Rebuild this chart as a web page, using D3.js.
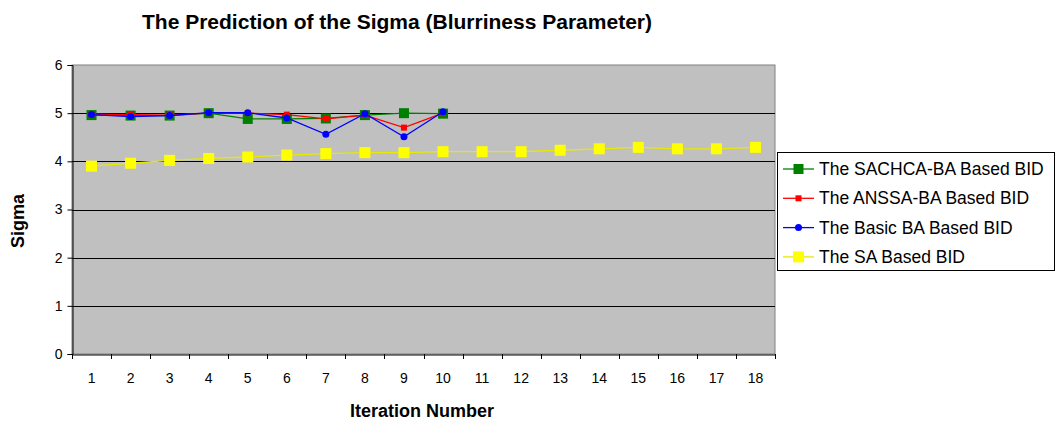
<!DOCTYPE html>
<html>
<head>
<meta charset="utf-8">
<script src="https://cdn.jsdelivr.net/npm/d3@7"></script>
<style>
  html, body { margin: 0; padding: 0; background: #fff; }
  svg { display: block; font-family: "Liberation Sans", Arial, sans-serif; }
</style>
</head>
<body>
<svg id="chart" width="1056" height="425"></svg>
<script>
// Iteration numbers shown on the x axis
const iterations = d3.range(1, 19);
const yTicks = [0, 1, 2, 3, 4, 5, 6];

// Estimated sigma per iteration for each method
const sachcaBA = [4.96, 4.95, 4.95, 5.00, 4.88, 4.88, 4.89, 4.96, 5.00, 4.99];
const anssaBA  = [4.98, 4.97, 4.96, 5.00, 5.00, 4.97, 4.88, 4.96, 4.70, 5.00];
const basicBA  = [4.97, 4.93, 4.95, 5.01, 5.01, 4.90, 4.56, 4.99, 4.51, 5.03];
const saBased  = [3.90, 3.96, 4.02, 4.06, 4.09, 4.13, 4.16, 4.18, 4.18, 4.20,
                  4.20, 4.20, 4.23, 4.26, 4.29, 4.26, 4.26, 4.29];

const seriesNames = ["The SACHCA-BA Based BID", "The ANSSA-BA Based BID",
                     "The Basic BA Based BID", "The SA Based BID"];

const series = [
  { name: seriesNames[0], values: sachcaBA, color: "#008000", line: "#008000", marker: "square", size: 10 },
  { name: seriesNames[1], values: anssaBA,  color: "#ff0000", line: "#ff0000", marker: "square", size: 6 },
  { name: seriesNames[2], values: basicBA,  color: "#0000ff", line: "#0000ff", marker: "circle", size: 7 },
  { name: seriesNames[3], values: saBased,  color: "#ffff00", line: "#e8e800", marker: "square", size: 11 }
];

const svg = d3.select("#chart");
const plot = { left: 72, right: 775, top: 65, bottom: 354 };

const x = d3.scaleBand().domain(iterations).range([plot.left, plot.right]);
const y = d3.scaleLinear().domain([0, 6]).range([plot.bottom, plot.top]);

// Plot background
svg.append("rect")
  .attr("x", plot.left).attr("y", plot.top)
  .attr("width", plot.right - plot.left).attr("height", plot.bottom - plot.top)
  .attr("fill", "#c0c0c0").attr("stroke", "#808080").attr("stroke-width", 1);

// Horizontal gridlines
svg.append("g").selectAll("line")
  .data(yTicks.filter(d => d > 0 && d < 6))
  .join("line")
  .attr("x1", plot.left).attr("x2", plot.right)
  .attr("y1", d => Math.round(y(d)) + 0.5).attr("y2", d => Math.round(y(d)) + 0.5)
  .attr("stroke", "#000").attr("stroke-width", 1);

// Y axis
const yAxis = svg.append("g")
  .attr("transform", `translate(${plot.left + 0.5},0)`)
  .call(d3.axisLeft(y).tickValues(yTicks).tickSize(5).tickPadding(5).tickFormat(d3.format("d")));
yAxis.select(".domain").attr("stroke", "#000");
yAxis.selectAll("line").attr("stroke", "#000");
yAxis.selectAll("text").attr("font-size", 14).attr("fill", "#000")
  .attr("font-family", "Liberation Sans, Arial, sans-serif");

// X axis: ticks sit between categories
const xAxis = svg.append("g")
  .attr("transform", `translate(0,${plot.bottom + 0.5})`)
  .call(d3.axisBottom(x).tickSize(0));
xAxis.select(".domain").attr("stroke", "#000");
xAxis.selectAll("text").attr("font-size", 14).attr("fill", "#000")
  .attr("y", 28).attr("dy", 0)
  .attr("font-family", "Liberation Sans, Arial, sans-serif");
svg.append("g").selectAll("line")
  .data(iterations.concat([iterations.length + 1]))
  .join("line")
  .attr("x1", (d, i) => Math.round(plot.left + i * x.bandwidth()) + 0.5)
  .attr("x2", (d, i) => Math.round(plot.left + i * x.bandwidth()) + 0.5)
  .attr("y1", plot.bottom).attr("y2", plot.bottom + 5)
  .attr("stroke", "#000");

// Series lines and markers
const cx = i => x(iterations[i]) + x.bandwidth() / 2;
const line = d3.line().x((d, i) => cx(i)).y(d => y(d));

series.forEach(s => {
  const g = svg.append("g");
  g.append("path")
    .datum(s.values)
    .attr("d", line)
    .attr("fill", "none")
    .attr("stroke", s.line)
    .attr("stroke-width", 1.3);
  if (s.marker === "square") {
    g.selectAll("rect").data(s.values).join("rect")
      .attr("x", (d, i) => cx(i) - s.size / 2)
      .attr("y", d => y(d) - s.size / 2)
      .attr("width", s.size).attr("height", s.size)
      .attr("fill", s.color);
  } else {
    g.selectAll("circle").data(s.values).join("circle")
      .attr("cx", (d, i) => cx(i))
      .attr("cy", d => y(d))
      .attr("r", s.size / 2)
      .attr("fill", s.color);
  }
});

// Title and axis titles
svg.append("text")
  .attr("x", 397).attr("y", 29)
  .attr("text-anchor", "middle")
  .attr("font-size", 21).attr("font-weight", "bold")
  .text("The Prediction of the Sigma (Blurriness Parameter)");

svg.append("text")
  .attr("x", 422).attr("y", 417)
  .attr("text-anchor", "middle")
  .attr("font-size", 18).attr("font-weight", "bold")
  .text("Iteration Number");

svg.append("text")
  .attr("transform", "translate(24,221) rotate(-90)")
  .attr("text-anchor", "middle")
  .attr("font-size", 18).attr("font-weight", "bold")
  .text("Sigma");

// Legend
const legend = svg.append("g");
legend.append("rect")
  .attr("x", 777.5).attr("y", 152.5).attr("width", 277).attr("height", 118)
  .attr("fill", "#fff").attr("stroke", "#000");

series.forEach((s, i) => {
  const ly = 169 + i * 29.3;
  legend.append("line")
    .attr("x1", 783).attr("x2", 814).attr("y1", ly).attr("y2", ly)
    .attr("stroke", s.line).attr("stroke-width", 1.3);
  if (s.marker === "square") {
    legend.append("rect")
      .attr("x", 798.5 - s.size / 2).attr("y", ly - s.size / 2)
      .attr("width", s.size).attr("height", s.size).attr("fill", s.color);
  } else {
    legend.append("circle").attr("cx", 798.5).attr("cy", ly).attr("r", s.size / 2).attr("fill", s.color);
  }
  legend.append("text")
    .attr("x", 819).attr("y", ly + 6)
    .attr("font-size", 17.5)
    .text(s.name);
});
</script>
</body>
</html>
